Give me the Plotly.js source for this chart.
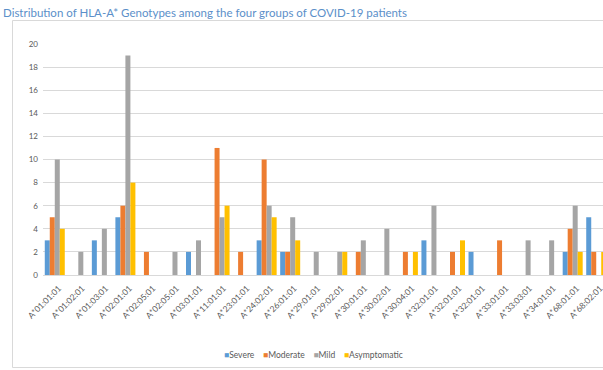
<!DOCTYPE html>
<html>
<head>
<meta charset="utf-8">
<script src="https://cdn.plot.ly/plotly-3.0.1.min.js"></script>
<style>
  html, body { margin: 0; padding: 0; background: #ffffff; overflow: hidden; }
  #chart { width: 620px; height: 370px; }
</style>
</head>
<body>
<div id="chart"></div>
<script>
// ---- data ----
const categories = [
  "A*01:01:01", "A*01:02:01", "A*01:03:01", "A*02:01:01", "A*02:05:01", "A*02:05:01",
  "A*03:01:01", "A*11:01:01", "A*23:01:01", "A*24:02:01", "A*26:01:01", "A*29:01:01",
  "A*29:02:01", "A*30:01:01", "A*30:02:01", "A*30:04:01", "A*32:01:01", "A*32:01:01",
  "A*32:01:01", "A*33:01:01", "A*33:03:01", "A*34:01:01", "A*68:01:01", "A*68:02:01"
];
const seriesNames = ["Severe", "Moderate", "Mild", "Asymptomatic"];
const severe       = [3, 0, 3, 5, 0, 0, 2, 0, 0, 3, 2, 0, 0, 0, 0, 0, 3, 0, 2, 0, 0, 0, 2, 5];
const moderate     = [5, 0, 0, 6, 2, 0, 0, 11, 2, 10, 2, 0, 0, 2, 0, 2, 0, 2, 0, 3, 0, 0, 4, 2];
const mild         = [10, 2, 4, 19, 0, 2, 3, 5, 0, 6, 5, 2, 2, 3, 4, 0, 6, 0, 0, 0, 3, 3, 6, 0];
const asymptomatic = [4, 0, 0, 8, 0, 0, 0, 6, 0, 5, 3, 0, 2, 0, 0, 2, 0, 3, 0, 0, 0, 0, 2, 2];
const yTicks = [0, 2, 4, 6, 8, 10, 12, 14, 16, 18, 20];
const titleText = "Distribution of HLA-A* Genotypes among the four groups of COVID-19 patients";

// ---- styling ----
const colors = ["#5B9BD5", "#ED7D31", "#A5A5A5", "#FFC000"];
const W = 620, H = 370;
const M = { l: 43, r: 12, t: 44, b: 95 };
const plotW = W - M.l - M.r, plotH = H - M.t - M.b;
const px2x = px => (px - M.l) / plotW;
const py2y = py => (H - M.b - py) / plotH;

const idx = categories.map((_, i) => i);
const values = [severe, moderate, mild, asymptomatic];
const traces = values.map((v, k) => ({
  type: "bar",
  name: seriesNames[k],
  x: idx,
  y: v,
  marker: { color: colors[k] },
  showlegend: false,
  hoverinfo: "x+y+name"
}));

const legendText = seriesNames.map((n, k) =>
  '<span style="color:' + colors[k] + '">\u25A0</span>' + n
).join('\u00A0\u00A0\u00A0\u00A0');

const layout = {
  width: W, height: H,
  margin: M,
  paper_bgcolor: "#ffffff",
  plot_bgcolor: "#ffffff",
  font: { family: "Lato, 'Open Sans', sans-serif", color: "#595959", size: 8 },
  barmode: "group",
  bargap: 0.15,
  bargroupgap: 0,
  title: {
    text: titleText,
    xref: "container", yref: "container",
    x: 3 / W, xanchor: "left",
    y: 1 - 13 / H, yanchor: "middle",
    font: { family: "Lato, sans-serif", size: 11.5, color: "#5B8FC9" }
  },
  xaxis: {
    range: [-0.5, categories.length - 0.5],
    tickmode: "array",
    tickvals: idx,
    ticktext: categories,
    tickangle: -45,
    tickfont: { size: 8.5, color: "#595959" },
    ticklabelshift: 4,
    ticklabelstandoff: 4,
    showgrid: false,
    zeroline: false,
    showline: true,
    linecolor: "#D9D9D9",
    linewidth: 1,
    ticks: "",
    fixedrange: true
  },
  yaxis: {
    range: [0, 20],
    tickmode: "array",
    tickvals: yTicks,
    tickfont: { size: 8, color: "#595959" },
    showgrid: true,
    gridcolor: "#D9D9D9",
    gridwidth: 1,
    zeroline: false,
    showline: false,
    ticks: "",
    ticklabelstandoff: 4,
    fixedrange: true
  },
  shapes: [{
    type: "rect", xref: "paper", yref: "paper", layer: "below",
    x0: px2x(12.5), x1: px2x(611.5), y0: py2y(367.5), y1: py2y(20.5),
    line: { color: "#D9D9D9", width: 1 }, fillcolor: "rgba(0,0,0,0)"
  }],
  annotations: [{
    xref: "paper", yref: "paper",
    x: px2x(313), y: py2y(355), xanchor: "center", yanchor: "middle",
    showarrow: false, text: legendText,
    font: { size: 8.5, color: "#595959" }
  }]
};

Plotly.newPlot("chart", traces, layout, { displayModeBar: false, staticPlot: true });
</script>
</body>
</html>
